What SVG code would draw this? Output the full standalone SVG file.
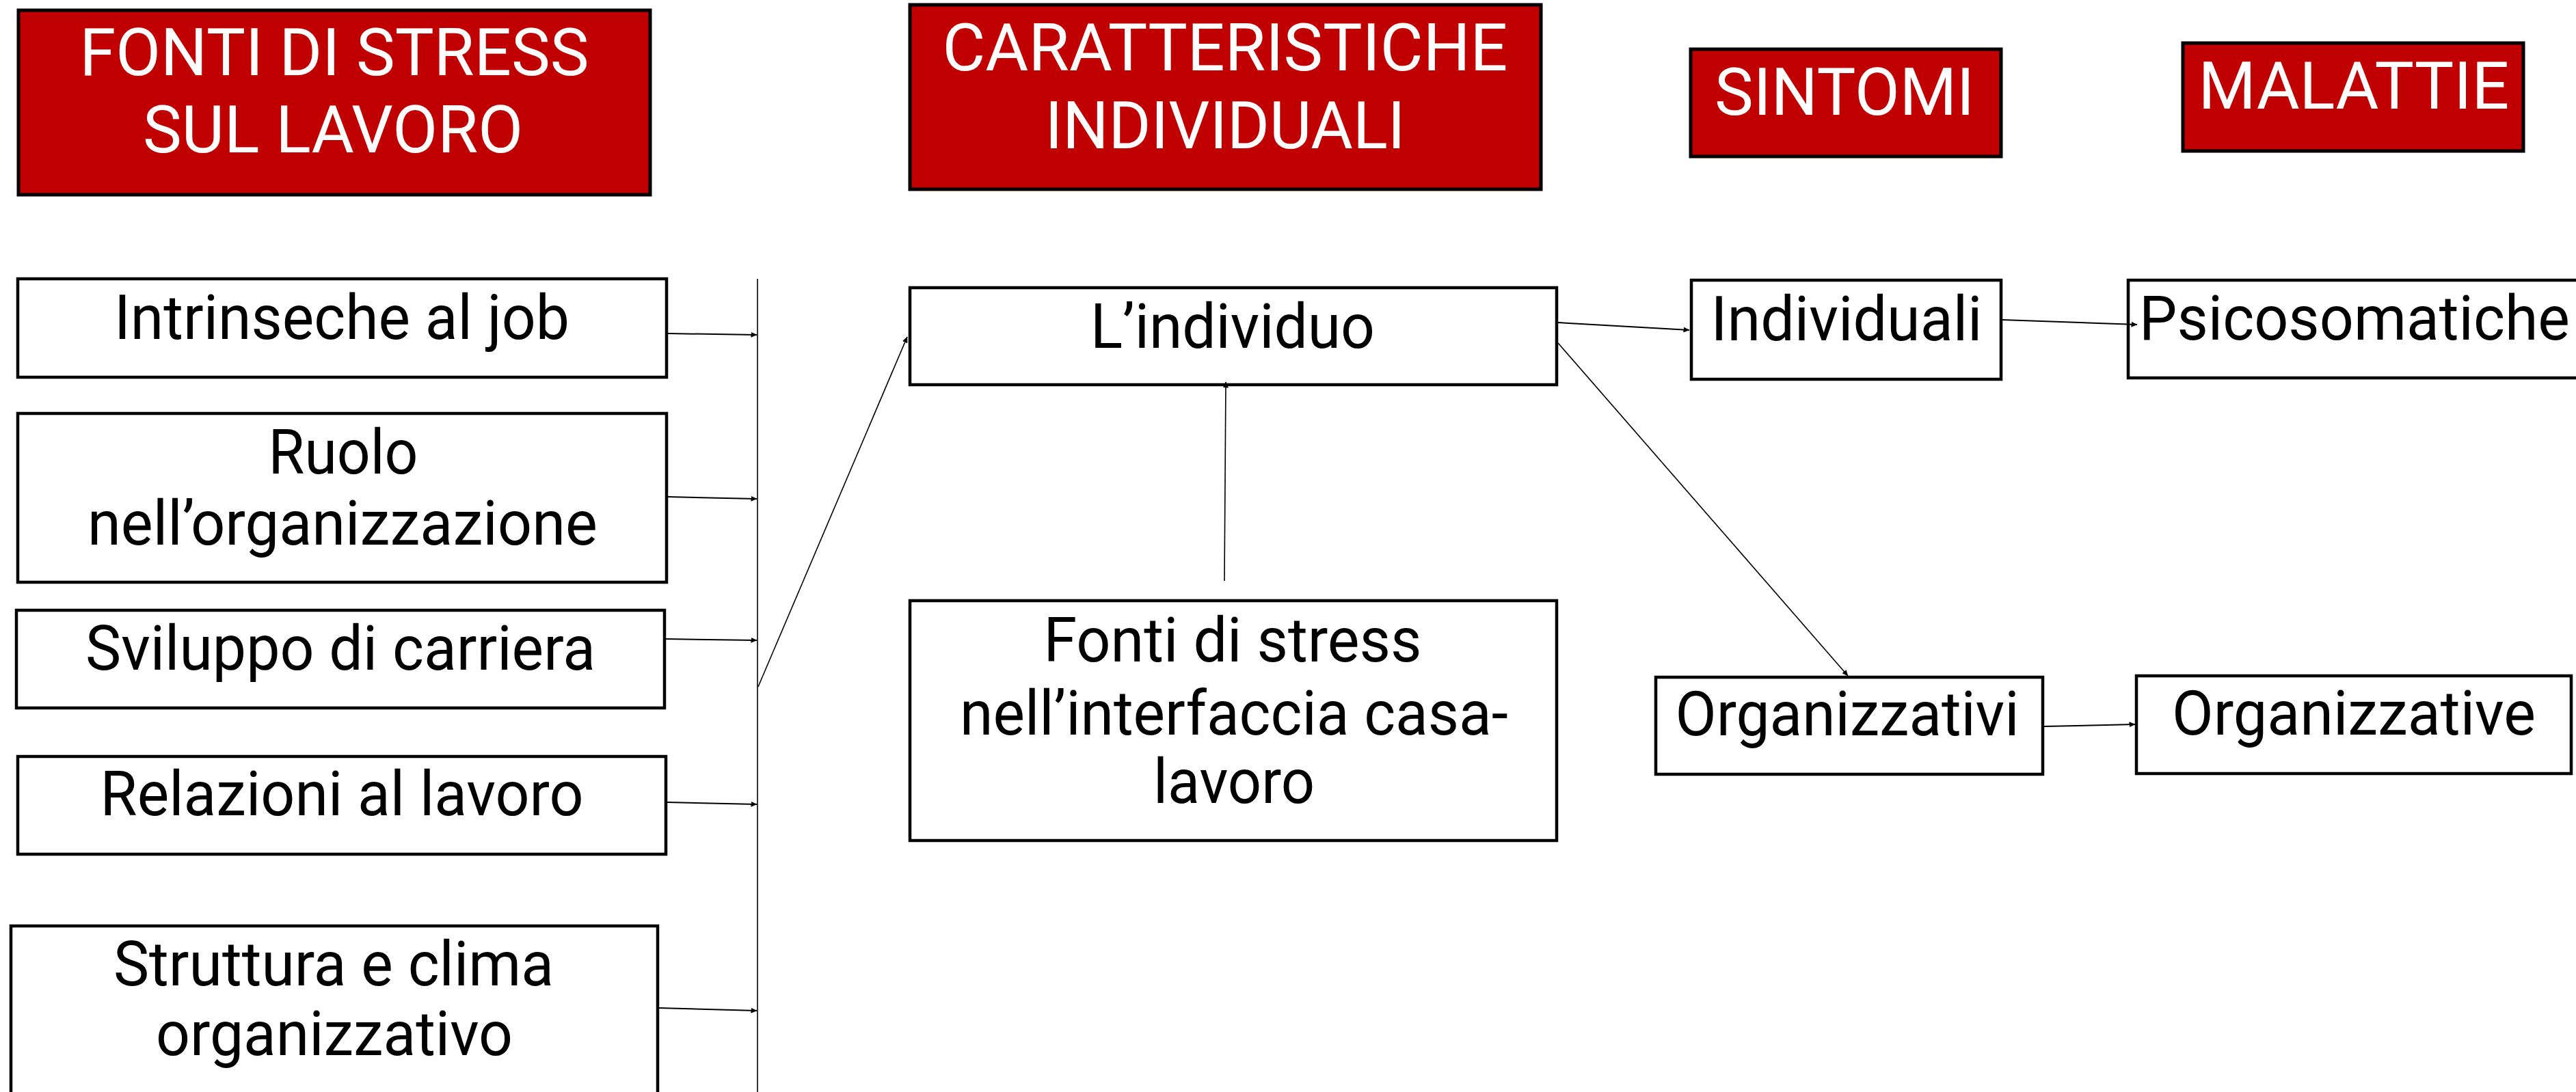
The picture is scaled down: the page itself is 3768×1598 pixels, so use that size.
<svg xmlns="http://www.w3.org/2000/svg" width="3768" height="1598" viewBox="0 0 3768 1598">
<style>
.hdr{fill:#C00000;stroke:#000;stroke-width:5}
.box{fill:#fff;stroke:#000;stroke-width:4.5}
.ht{font-family:Roboto,"Liberation Sans",sans-serif;font-size:97px;fill:#fff;text-anchor:middle}
.bt{font-family:Roboto,"Liberation Sans",sans-serif;font-size:90px;fill:#000;text-anchor:middle}
.c{stroke:#000;stroke-width:2;fill:none}
.t{stroke:#000;stroke-width:1.6;fill:none}
</style>
<defs>
<marker id="ah" markerWidth="9" markerHeight="8" refX="8.5" refY="4" orient="auto" markerUnits="userSpaceOnUse">
<path d="M0,0 L9,4 L0,8 Z" fill="#000"/>
</marker>
</defs>
<rect width="3768" height="1598" fill="#fff"/>
<g id="h-fonti">
<rect class="hdr" x="27" y="15" width="924" height="270"/>
<text class="ht" x="489" y="110" textLength="745" lengthAdjust="spacingAndGlyphs">FONTI DI STRESS</text>
<text class="ht" x="487" y="223" textLength="556" lengthAdjust="spacingAndGlyphs">SUL LAVORO</text>
</g>
<g id="h-caratteristiche">
<rect class="hdr" x="1331" y="7" width="923" height="270"/>
<text class="ht" x="1792" y="103" textLength="827" lengthAdjust="spacingAndGlyphs">CARATTERISTICHE</text>
<text class="ht" x="1792" y="217" textLength="527" lengthAdjust="spacingAndGlyphs">INDIVIDUALI</text>
</g>
<g id="h-sintomi">
<rect class="hdr" x="2473" y="72" width="454" height="157"/>
<text class="ht" x="2698" y="168" textLength="380" lengthAdjust="spacingAndGlyphs">SINTOMI</text>
</g>
<g id="h-malattie">
<rect class="hdr" x="3193" y="63" width="498" height="158"/>
<text class="ht" x="3443" y="159" textLength="455" lengthAdjust="spacingAndGlyphs">MALATTIE</text>
</g>
<g id="n-intrinseche">
<rect class="box" x="26" y="408" width="949" height="144"/>
<text class="bt" x="500" y="496" textLength="666" lengthAdjust="spacingAndGlyphs">Intrinseche al job</text>
</g>
<g id="n-ruolo">
<rect class="box" x="26" y="605" width="949" height="247"/>
<text class="bt" x="502" y="693" textLength="219" lengthAdjust="spacingAndGlyphs">Ruolo</text>
<text class="bt" x="501" y="797" textLength="746" lengthAdjust="spacingAndGlyphs">nell’organizzazione</text>
</g>
<g id="n-sviluppo">
<rect class="box" x="24" y="893" width="948" height="143"/>
<text class="bt" x="498" y="980" textLength="746" lengthAdjust="spacingAndGlyphs">Sviluppo di carriera</text>
</g>
<g id="n-relazioni">
<rect class="box" x="26" y="1107" width="948" height="143"/>
<text class="bt" x="500" y="1193" textLength="707" lengthAdjust="spacingAndGlyphs">Relazioni al lavoro</text>
</g>
<g id="n-struttura">
<rect class="box" x="16" y="1355" width="946" height="260"/>
<text class="bt" x="488" y="1442" textLength="644" lengthAdjust="spacingAndGlyphs">Struttura e clima</text>
<text class="bt" x="489" y="1544" textLength="522" lengthAdjust="spacingAndGlyphs">organizzativo</text>
</g>
<g id="n-individuo">
<rect class="box" x="1331" y="421" width="946" height="142"/>
<text class="bt" x="1803" y="509" textLength="416" lengthAdjust="spacingAndGlyphs">L’individuo</text>
</g>
<g id="n-casa">
<rect class="box" x="1331" y="879" width="946" height="351"/>
<text class="bt" x="1803" y="968" textLength="553" lengthAdjust="spacingAndGlyphs">Fonti di stress</text>
<text class="bt" x="1805" y="1075" textLength="802" lengthAdjust="spacingAndGlyphs">nell’interfaccia casa-</text>
<text class="bt" x="1805" y="1175" textLength="236" lengthAdjust="spacingAndGlyphs">lavoro</text>
</g>
<g id="n-individuali">
<rect class="box" x="2474" y="410" width="453" height="145"/>
<text class="bt" x="2701" y="498" textLength="397" lengthAdjust="spacingAndGlyphs">Individuali</text>
</g>
<g id="n-psicosomatiche">
<rect class="box" x="3113" y="410" width="660" height="143"/>
<text class="bt" x="3444" y="497" textLength="630" lengthAdjust="spacingAndGlyphs">Psicosomatiche</text>
</g>
<g id="n-organizzativi">
<rect class="box" x="2422" y="991" width="566" height="142"/>
<text class="bt" x="2702" y="1076" textLength="503" lengthAdjust="spacingAndGlyphs">Organizzativi</text>
</g>
<g id="n-organizzative">
<rect class="box" x="3125" y="989" width="636" height="143"/>
<text class="bt" x="3443" y="1075" textLength="532" lengthAdjust="spacingAndGlyphs">Organizzative</text>
</g>
<g id="connectors">
<line class="t" x1="1108" y1="408" x2="1108" y2="1598"/>
<line class="c" x1="977" y1="488" x2="1107" y2="490" marker-end="url(#ah)"/>
<line class="c" x1="977" y1="727" x2="1107" y2="730" marker-end="url(#ah)"/>
<line class="c" x1="974" y1="935" x2="1107" y2="937" marker-end="url(#ah)"/>
<line class="c" x1="976" y1="1174" x2="1107" y2="1177" marker-end="url(#ah)"/>
<line class="c" x1="964" y1="1475" x2="1107" y2="1479" marker-end="url(#ah)"/>
<line class="t" x1="1109" y1="1005" x2="1327" y2="493" marker-end="url(#ah)"/>
<line class="t" x1="1791" y1="850" x2="1793" y2="559" marker-end="url(#ah)"/>
<line class="c" x1="2279" y1="472" x2="2471" y2="483" marker-end="url(#ah)"/>
<line class="t" x1="2279" y1="502" x2="2703" y2="989" marker-end="url(#ah)"/>
<line class="c" x1="2929" y1="468" x2="3126" y2="475" marker-end="url(#ah)"/>
<line class="c" x1="2990" y1="1063" x2="3123" y2="1060" marker-end="url(#ah)"/>
</g>
</svg>
